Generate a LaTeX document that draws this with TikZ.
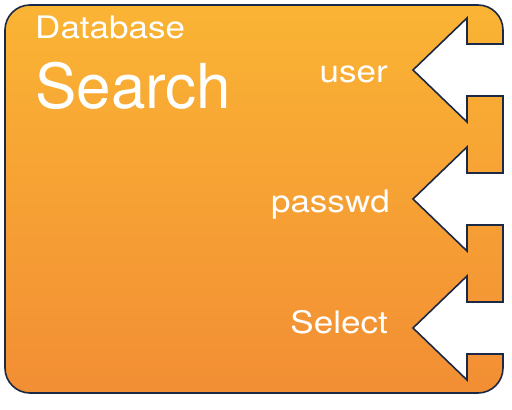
\documentclass[tikz,border=0pt]{standalone}
\usepackage{fontspec}
\setmainfont{TeX Gyre Heros}
\usepackage{xcolor}
\definecolor{boxtop}{RGB}{250,180,52}
\definecolor{boxbottom}{RGB}{242,142,52}
\definecolor{boxline}{RGB}{27,40,70}
\tikzset{
	every picture/.style={
		x=1pt,y=-1pt
}}
\begin{document}
\begin{tikzpicture}
\tikzstyle{block}=[top color=boxtop, bottom color=boxbottom, draw=boxline, line width=1.6pt, line join=miter]
\tikzstyle{title}=[text=white, inner sep=0pt, font=\fontsize{31}{31}\selectfont, xscale=1.13]
\tikzstyle{port}=[text=white, inner sep=0pt, font=\fontsize{31}{31}\selectfont, xscale=1.13, anchor=base east]
\useasboundingbox (0,0) rectangle (512,410);
% block outline with the three input notches
\draw[block] (30,5) -- (478,5) arc[start angle=-90, end angle=0, radius=25]
 -- (503,44) -- (467,44) -- (467,18) -- (413,70) -- (467,122) -- (467,96) -- (503,96)
 -- (503,173) -- (467,173) -- (467,147) -- (413,199) -- (467,251) -- (467,225) -- (503,225)
 -- (503,302) -- (467,302) -- (467,276) -- (413,328) -- (467,380) -- (467,354) -- (503,354)
 -- (503,368) arc[start angle=0, end angle=90, radius=25]
 -- (30,393) arc[start angle=90, end angle=180, radius=25]
 -- (5,30) arc[start angle=180, end angle=270, radius=25] -- cycle;
% titles
\node[title, anchor=base west] (db) at (35,38) {Database};
\node[text=white, inner sep=0pt, font=\fontsize{62}{62}\selectfont, anchor=base west] (search) at (35,108) {Search};
% ports
\node[port] (user) at (388,82) {user};
\node[port] (passwd) at (390,212) {passwd};
\node[port] (select) at (388,333) {Select};
\end{tikzpicture}
\end{document}
